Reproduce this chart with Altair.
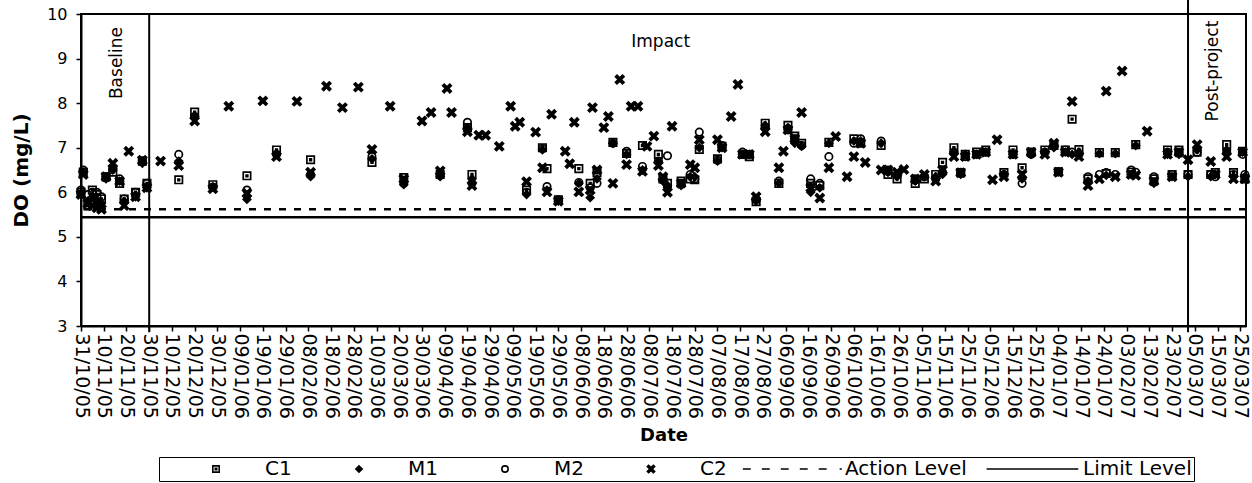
import altair as alt
import pandas as pd

# ---------------- data ----------------
dates = [
    "2005-10-31", "2005-11-01", "2005-11-03", "2005-11-05", "2005-11-07", "2005-11-09", "2005-11-11", "2005-11-14", "2005-11-17", "2005-11-19",
    "2005-11-21", "2005-11-24", "2005-11-27", "2005-11-29", "2005-12-05", "2005-12-13", "2005-12-20", "2005-12-28", "2006-01-04", "2006-01-12",
    "2006-01-19", "2006-01-25", "2006-02-03", "2006-02-09", "2006-02-16", "2006-02-23", "2006-03-02", "2006-03-08", "2006-03-16", "2006-03-22",
    "2006-03-30", "2006-04-03", "2006-04-07", "2006-04-10", "2006-04-12", "2006-04-19", "2006-04-21", "2006-04-24", "2006-04-27", "2006-05-03",
    "2006-05-08", "2006-05-10", "2006-05-12", "2006-05-15", "2006-05-19", "2006-05-22", "2006-05-24", "2006-05-26", "2006-05-29", "2006-06-01",
    "2006-06-03", "2006-06-05", "2006-06-07", "2006-06-12", "2006-06-13", "2006-06-15", "2006-06-18", "2006-06-20", "2006-06-22", "2006-06-25",
    "2006-06-28", "2006-06-30", "2006-07-03", "2006-07-05", "2006-07-07", "2006-07-10", "2006-07-12", "2006-07-14", "2006-07-16", "2006-07-18",
    "2006-07-22", "2006-07-26", "2006-07-28", "2006-07-30", "2006-08-07", "2006-08-09", "2006-08-13", "2006-08-16", "2006-08-18", "2006-08-21",
    "2006-08-24", "2006-08-28", "2006-09-03", "2006-09-05", "2006-09-07", "2006-09-10", "2006-09-13", "2006-09-17", "2006-09-21", "2006-09-25",
    "2006-09-28", "2006-10-03", "2006-10-06", "2006-10-09", "2006-10-11", "2006-10-18", "2006-10-21", "2006-10-25", "2006-10-28", "2006-11-02",
    "2006-11-06", "2006-11-11", "2006-11-14", "2006-11-19", "2006-11-22", "2006-11-24", "2006-11-29", "2006-12-03", "2006-12-06", "2006-12-08",
    "2006-12-11", "2006-12-15", "2006-12-19", "2006-12-23", "2006-12-29", "2007-01-02", "2007-01-04", "2007-01-07", "2007-01-10", "2007-01-13",
    "2007-01-17", "2007-01-22", "2007-01-25", "2007-01-29", "2007-02-01", "2007-02-05", "2007-02-07", "2007-02-12", "2007-02-15", "2007-02-21",
    "2007-02-23", "2007-02-26", "2007-03-02", "2007-03-06", "2007-03-12", "2007-03-14", "2007-03-19", "2007-03-22", "2007-03-26", "2007-03-27",
]
N = None
c1 = [
    6.00, 6.45, 5.70, 6.05, 5.95, 5.85, 6.35, 6.45, 6.20, 5.85,
    N, 6.00, 6.70, 6.20, N, 6.28, 7.80, 6.17, N, 6.37,
    N, 6.95, N, 6.73, N, N, N, 6.67, N, 6.33,
    N, N, 6.40, N, N, 7.45, 6.40, N, N, N,
    N, N, N, 6.05, N, 7.00, 6.53, N, 5.83, N,
    N, N, 6.53, 6.20, N, 6.44, N, N, 7.12, N,
    6.87, N, N, 7.05, N, N, 6.85, 6.30, 6.20, N,
    6.25, 6.30, 6.28, 6.96, 6.75, 7.03, N, N, 6.85, 6.80,
    5.79, 7.55, 6.20, N, 7.50, 7.26, 7.10, 6.20, 6.15, 7.12,
    N, N, 7.20, 7.10, N, 7.05, 6.40, 6.30, N, 6.20,
    6.30, 6.40, 6.67, 7.00, 6.44, 6.85, 6.90, 6.95, N, N,
    6.44, 6.95, 6.55, 6.90, 6.95, 7.05, 6.46, 6.95, 7.64, 6.96,
    6.30, 6.89, 6.42, 6.89, N, 6.45, 7.07, N, 6.30, 6.95,
    6.40, 6.95, 6.40, 6.90, 6.40, 6.44, 7.07, 6.44, 6.92, 6.30,
]
m1 = [
    5.98, 6.45, 5.80, 5.90, 5.80, 5.75, 6.30, 6.50, 6.25, 5.80,
    N, 5.90, 6.65, 6.10, N, 6.70, 7.70, 6.12, N, 5.84,
    N, 6.85, N, 6.35, N, N, N, 6.75, N, 6.17,
    N, N, 6.35, N, N, 7.45, 6.30, N, N, N,
    N, N, N, 5.95, N, 6.95, 6.05, N, 5.80, N,
    N, N, 6.20, 5.88, N, 6.30, N, N, 7.10, N,
    6.85, N, N, 6.50, N, N, 6.69, 6.25, 6.15, N,
    6.15, 6.35, 6.35, 7.00, 6.70, 7.00, N, N, 6.85, 6.85,
    5.80, 7.50, 6.20, N, 7.45, 7.10, 7.03, 6.00, 6.10, 7.10,
    N, N, 7.15, 7.15, N, 7.10, 6.45, 6.35, N, 6.25,
    6.35, 6.35, 6.40, 6.90, 6.40, 6.85, 6.85, 6.90, N, N,
    6.40, 6.85, 6.30, 6.85, 6.90, 7.00, 6.46, 6.90, 6.85, 6.90,
    6.25, 6.87, 6.38, 6.87, N, 6.40, 7.05, N, 6.20, 6.85,
    6.35, 6.85, 6.35, 6.95, 6.35, 6.40, 6.95, 6.35, 6.90, 6.35,
]
m2 = [
    6.05, 6.50, 5.95, 6.00, 6.00, 5.90, 6.35, 6.55, 6.30, 5.85,
    N, 6.00, 6.70, 6.20, N, 6.85, 7.70, 6.12, N, 6.05,
    N, 6.85, N, 6.40, N, N, N, 6.80, N, 6.20,
    N, N, 6.38, N, N, 7.57, 6.20, N, N, N,
    N, N, N, 6.00, N, 6.98, 6.13, N, 5.83, N,
    N, N, 6.22, 6.10, N, 6.20, N, N, 7.10, N,
    6.92, N, N, 6.58, N, N, 6.70, 6.28, 6.82, N,
    6.20, 6.40, 6.30, 7.35, 6.72, 7.05, N, N, 6.90, 6.85,
    5.85, 7.45, 6.25, N, 7.40, 7.20, 7.05, 6.30, 6.20, 6.80,
    N, N, 7.10, 7.20, N, 7.15, 6.50, 6.40, N, 6.30,
    6.35, 6.30, 6.45, 6.90, 6.45, 6.80, 6.85, 6.90, N, N,
    6.40, 6.85, 6.20, 6.85, 6.90, 7.05, 6.46, 6.95, 6.90, 6.85,
    6.35, 6.40, 6.44, 6.40, N, 6.50, 6.45, N, 6.35, 6.90,
    6.40, 6.90, 6.40, 6.90, 6.40, 6.35, 6.90, 6.40, 6.85, 6.40,
]
c2 = [
    5.95, 6.40, 5.75, 5.70, 5.65, 5.62, 6.35, 6.65, 6.25, 5.70,
    6.92, 5.90, 6.72, 6.10, 6.70, 6.60, 7.60, 6.08, 7.93, 5.98,
    8.05, 6.80, 8.04, 6.45, 8.38, 7.90, 8.36, 6.96, 7.93, 6.30,
    7.60, 7.79, 6.48, 8.33, 7.79, 7.36, 6.15, 7.28, 7.28, 7.03,
    7.93, 7.48, 7.57, 6.24, 7.35, 6.55, 6.01, 7.75, 5.80, 6.92,
    6.64, 7.57, 6.01, 6.05, 7.90, 6.50, 7.45, 7.70, 6.20, 8.53,
    6.62, 7.93, 7.93, 6.47, 7.03, 7.26, 6.60, 6.35, 6.00, 7.48,
    6.20, 6.62, 6.55, 7.18, 7.18, 7.00, 7.70, 8.42, 6.85, 6.85,
    5.90, 7.36, 6.55, 6.92, 7.40, 7.20, 7.79, 6.10, 5.87, 6.55,
    7.25, 6.35, 6.80, 7.10, 6.67, 6.50, 6.50, 6.45, 6.51, 6.30,
    6.40, 6.25, 6.50, 6.80, 6.44, 6.80, 6.85, 6.90, 6.28, 7.18,
    6.35, 6.85, 6.40, 6.90, 6.85, 7.10, 6.45, 6.90, 8.04, 6.80,
    6.15, 6.30, 8.27, 6.35, 8.72, 6.40, 6.38, 7.37, 6.25, 6.85,
    6.35, 6.90, 6.73, 7.07, 6.69, 6.40, 6.80, 6.30, 6.90, 6.30,
]

station_names = ["C1", "M1", "M2", "C2"]
legend_names = ["C1", "M1", "M2", "C2", "Action Level", "Limit Level"]
action_level = [5.62]
limit_level = [5.44]
phase_breaks = ["2005-11-30", "2007-03-02"]
phase_bottoms = [2.86, 2.86]
phase_tops = [10.0, 10.32]
phase_labels = ["Baseline", "Impact", "Post-project"]
phase_label_dates = ["2005-11-16", "2006-07-13", "2007-03-13"]
phase_label_values = [8.9, 9.37, 8.72]
phase_label_angles = [270, 0, 270]
tick_dates = pd.date_range("2005-10-31", "2007-03-25", freq="10D")
y_ticks = [3, 4, 5, 6, 7, 8, 9, 10]

# ---------------- tables ----------------
rows = []
for name, vals in zip(station_names, [c1, m1, m2, c2]):
    for d, v in zip(dates, vals):
        if v is not None:
            rows.append({"date": pd.Timestamp(d), "value": v, "series": name})
points_df = pd.DataFrame(rows)

FONT = "DejaVu Sans"
C1_PATH = "M-1,-1H1V1H-1Z M-0.22,-0.22H0.22V0.22H-0.22Z"
X_PATH = "M-1.15,-0.75L-0.75,-1.15L0,-0.42L0.75,-1.15L1.15,-0.75L0.42,0L1.15,0.75L0.75,1.15L0,0.42L-0.75,1.15L-1.15,0.75L-0.42,0Z"
DASH_PATH = "M-16.8,0H-14.3M-10.8,0H-8.3M-4.8,0H-2.3M1.2,0H3.7M7.2,0H9.7M13.8,0H14.5"
LINE_PATH = "M-15,0H14"
shape_range = [C1_PATH, "diamond", "circle", X_PATH, DASH_PATH, LINE_PATH]
fill_range = ["transparent", "black", "transparent", "black", "transparent", "transparent"]
stroke_range = ["black"] * 6

x_scale = alt.Scale(domain=[alt.DateTime(year=2005, month=10, date=31),
                            alt.DateTime(year=2007, month=3, date=27, hours=12)])
y_scale = alt.Scale(domain=[3, 10], nice=False, zero=False)

x_axis = alt.Axis(
    values=[alt.DateTime(year=t.year, month=t.month, date=t.day) for t in tick_dates],
    format="%d/%m/%y", labelAngle=90, labelOverlap=False, labelFlush=False,
    labelFontSize=19, labelPadding=2, tickSize=5, tickWidth=1.5, domainWidth=2,
    titleFontSize=18, titleFontWeight="bold", titlePadding=8, grid=False, title="Date",
)
y_axis = alt.Axis(
    values=y_ticks, labelFontSize=16, labelPadding=9, tickSize=5, tickWidth=1.5,
    domainWidth=2, titleFontSize=20, titleFontWeight="bold", titlePadding=15, grid=False,
    title="DO (mg/L)",
)

legend = alt.Legend(
    title=None, orient="none", legendX=78, legendY=443, direction="horizontal",
    columns=6, symbolSize=40, symbolStrokeWidth=1.6, symbolStrokeColor="black",
    labelFont=FONT, labelFontSize=20, labelColor="black", labelOffset=39,
    columnPadding=12, padding=2, strokeColor="black", fillColor="white",
    symbolOffset=45,
)

X = alt.X("date:T", scale=x_scale, axis=x_axis, title="Date")
Y = alt.Y("value:Q", scale=y_scale, axis=y_axis, title="DO (mg/L)")

points = alt.Chart(points_df).mark_point(
    filled=True, strokeWidth=1.7, size=55, opacity=1
).encode(
    x=X, y=Y,
    shape=alt.Shape("series:N", scale=alt.Scale(domain=legend_names, range=shape_range), legend=legend),
    fill=alt.Fill("series:N", scale=alt.Scale(domain=legend_names, range=fill_range), legend=legend),
    stroke=alt.Stroke("series:N", scale=alt.Scale(domain=legend_names, range=stroke_range), legend=legend),
)

action = alt.Chart(pd.DataFrame({"value": action_level})).mark_rule(
    color="black", strokeWidth=2.5, strokeDash=[7, 8]
).encode(y=Y)

limit = alt.Chart(pd.DataFrame({"value": limit_level})).mark_rule(
    color="black", strokeWidth=2.5
).encode(y=Y)

phase_df = pd.DataFrame({"date": pd.to_datetime(phase_breaks), "value": phase_bottoms, "value2": phase_tops})
phases = alt.Chart(phase_df).mark_rule(color="black", strokeWidth=2).encode(
    x=X, y=Y, y2="value2:Q"
)

text_df = pd.DataFrame({"date": pd.to_datetime(phase_label_dates), "value": phase_label_values,
                        "label": phase_labels, "angle": phase_label_angles})
texts = alt.Chart(text_df).mark_text(font=FONT, fontSize=17, color="black").encode(
    x=X, y=Y, text="label:N", angle=alt.Angle("angle:Q", scale=None),
)

chart = alt.layer(action, limit, phases, points, texts).properties(
    width=1165, height=312,
    autosize=alt.AutoSizeParams(type="none"),
    padding={"left": 81, "top": 14, "right": 6, "bottom": 157},
    background="white",
).configure_view(stroke="black", strokeWidth=2).configure_axis(
    domainColor="black", tickColor="black", labelColor="black", titleColor="black",
    labelFont=FONT, titleFont=FONT,
).configure_axisX(labelOverlap=False)

chart.save("out.html", embed_options={"renderer": "svg", "actions": False})
